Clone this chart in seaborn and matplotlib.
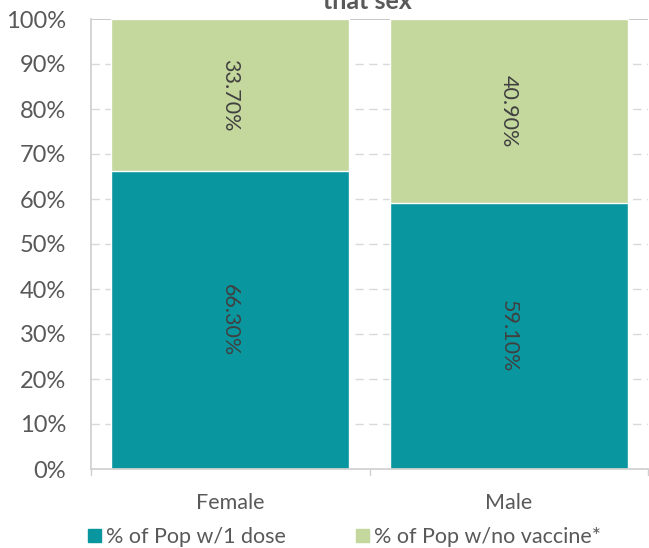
import matplotlib
matplotlib.use("Agg")
import matplotlib.pyplot as plt
import seaborn as sns
import pandas as pd
from matplotlib.patches import Patch

categories = ["Female", "Male"]
dose = [66.30, 59.10]
novax = [33.70, 40.90]
series_names = ["% of Pop w/1 dose", "% of Pop w/no vaccine*"]
yticks = [0, 10, 20, 30, 40, 50, 60, 70, 80, 90, 100]

c_dose = "#09969E"
c_novax = "#C4D79D"
gray = "#595959"

sns.set_theme(style="white")
plt.rcParams["font.family"] = ["Lato", "DejaVu Sans"]

df = pd.DataFrame({"cat": categories, "dose": dose, "novax": novax})
df["total"] = df["dose"] + df["novax"]

fig = plt.figure(figsize=(6.49, 5.48), dpi=100)
ax = fig.add_axes([91/649, 79/548, 557/649, 450/548])

for y in yticks[1:-1]:
    ax.axhline(y, color="#D9D9D9", lw=1, ls=(0, (6, 4)), zorder=0)
ax.axhline(100, color="#BFBFBF", lw=1.2, zorder=0)

sns.barplot(data=df, x="cat", y="total", color=c_novax, width=0.855, ax=ax,
            saturation=1, zorder=2)
sns.barplot(data=df, x="cat", y="dose", color=c_dose, width=0.855, ax=ax,
            saturation=1, zorder=3)

for i, (d, n) in enumerate(zip(dose, novax)):
    ax.text(i, d / 2, f"{d:.2f}%", rotation=-90, ha="center", va="center",
            fontsize=15.5, color="#404040", zorder=5)
    ax.text(i, d + n / 2, f"{n:.2f}%", rotation=-90, ha="center", va="center",
            fontsize=15.5, color="#404040", zorder=5)

ax.set_xlim(-0.5, 1.5)
ax.set_ylim(0, 100)
ax.set_yticks(yticks)
ax.set_yticklabels([f"{v}%" for v in yticks], fontsize=17, color=gray)
ax.tick_params(axis="y", length=0, pad=18)
ax.tick_params(axis="x", length=0, pad=17, labelsize=15.5, labelcolor=gray)
ax.set_xlabel("")
ax.set_ylabel("")

for s in ["top", "right"]:
    ax.spines[s].set_visible(False)
ax.spines["left"].set_color("#D0D0D0")
ax.spines["bottom"].set_color("#D0D0D0")
ax.spines["bottom"].set_zorder(4)

# category separator ticks
for x in [-0.5, 0.5, 1.5]:
    ax.plot([x, x], [0, -1.4], color="#D0D0D0", lw=1, clip_on=False, zorder=4)

fig.text(367/649, 1 - 9/548, "that sex", ha="center", va="baseline",
         fontsize=18, fontweight="bold", color=gray)

handles = [Patch(color=c_dose, label=series_names[0]),
           Patch(color=c_novax, label=series_names[1])]
leg = fig.legend(handles=handles, loc="center left", bbox_to_anchor=(88/649, 1 - 537/548),
                 ncol=2, frameon=False, fontsize=15.5, handlelength=0.6, handleheight=0.6,
                 handletextpad=0.25, columnspacing=3.25, borderaxespad=0, borderpad=0)
for t in leg.get_texts():
    t.set_color(gray)

fig.savefig("out.png", dpi=100)
